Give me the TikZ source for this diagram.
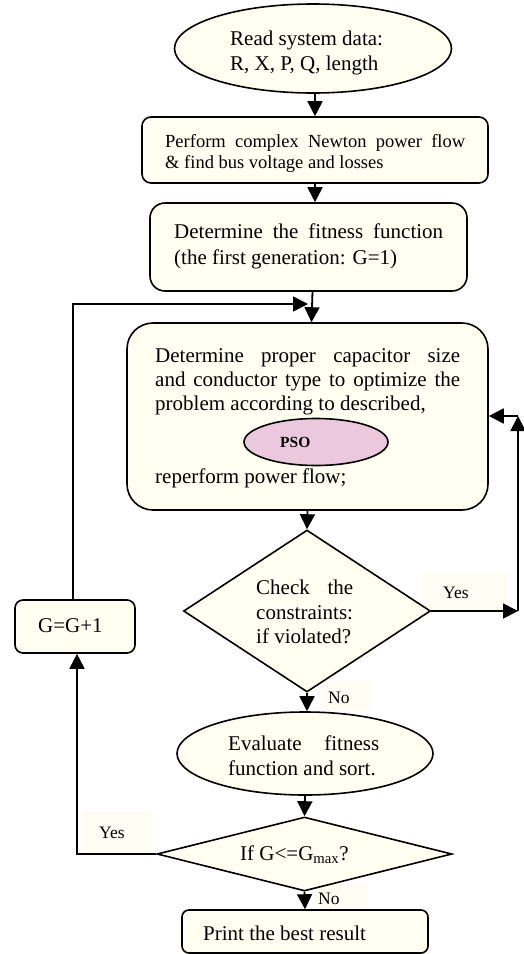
\documentclass[tikz,border=0pt]{standalone}
\usepackage{fontspec}
\setmainfont{Liberation Serif}
\usetikzlibrary{shapes.geometric,arrows.meta}
\definecolor{cream}{RGB}{255,255,242}
\definecolor{lblbg}{RGB}{253,253,243}
\definecolor{psopink}{RGB}{236,200,222}
\begin{document}
\begin{tikzpicture}[x=1pt,y=-1pt,
  box/.style={draw, line width=1.6pt, fill=cream, rectangle, inner sep=0pt},
  ell/.style={draw, line width=1.6pt, fill=cream, ellipse, inner sep=0pt},
  dia/.style={draw, line width=1.6pt, fill=cream, diamond, inner sep=0pt, line join=miter},
  txt/.style={anchor=base west, inner sep=0pt, font=\fontsize{21}{25}\selectfont},
  txtsm/.style={anchor=base west, inner sep=0pt, font=\fontsize{18.5}{22}\selectfont},
  lbl/.style={anchor=base west, inner sep=0pt, font=\fontsize{17.5}{20}\selectfont},
  arr/.style={-{Triangle[length=15pt,width=15pt]}, line width=1.8pt}]
\useasboundingbox (0,0) rectangle (524,954);

% label backgrounds
\fill[lblbg] (423,573) rectangle (507,610);
\fill[lblbg] (322,680) rectangle (370,710);
\fill[lblbg] (82,812) rectangle (152,853);
\fill[lblbg] (313,884) rectangle (367,908);

% shapes
\node[ell, minimum width=277pt, minimum height=89pt] (n1) at (313,48.5) {};
\node[box, rounded corners=9pt, minimum width=346pt, minimum height=66pt] (n2) at (315,150) {};
\node[box, rounded corners=15pt, minimum width=317pt, minimum height=88pt] (n3) at (308.5,247) {};
\node[box, rounded corners=26pt, minimum width=361pt, minimum height=187pt] (n4) at (307.5,416.5) {};
\node[ell, fill=psopink, minimum width=144pt, minimum height=47pt] (pso) at (316,442) {};
\node[dia, minimum width=247pt, minimum height=162pt] (d1) at (307,611) {};
\node[box, rounded corners=8pt, minimum width=120pt, minimum height=53pt] (g) at (75,626.5) {};
\node[ell, minimum width=256pt, minimum height=83pt] (e2) at (305,753.5) {};
\node[dia, minimum width=295pt, minimum height=74pt] (d2) at (304.5,854) {};
\node[box, rounded corners=7pt, minimum width=246pt, minimum height=43pt] (p) at (305,931.5) {};

% texts
\node[txt] (t1a) at (230,45) {Read system data:};
\node[txt] (t1b) at (230,70) {R, X, P, Q, length};
\node[txtsm] (t2a) at (165,147) {\makebox[300pt][s]{Perform complex Newton power flow}};
\node[txtsm] (t2b) at (165,168.5) {\& find bus voltage and losses};
\node[txt] (t3a) at (174,238) {\makebox[269pt][s]{Determine the fitness function}};
\node[txt] (t3b) at (174,264) {(the first generation: G=1)};
\node[txt] (t4a) at (155,362) {\makebox[305pt][s]{Determine proper capacitor size}};
\node[txt] (t4b) at (155,386) {\makebox[305pt][s]{and conductor type to optimize the}};
\node[txt] (t4c) at (155,410) {problem according to described,};
\node[anchor=base west, inner sep=0pt, font=\fontsize{15.5}{18}\selectfont\bfseries] (tpso) at (280,447) {PSO};
\node[txt] (t4d) at (155,483) {reperform power flow;};
\node[txt] (t5a) at (256,594) {\makebox[97pt]{Check\hfill the}};
\node[txt] (t5b) at (256,619) {constraints:};
\node[txt] (t5c) at (256,643) {if violated?};
\node[txt] (tg) at (38,632) {G=G+1};
\node[txt] (t6a) at (228,750) {\makebox[151pt]{Evaluate\hfill fitness}};
\node[txt] (t6b) at (228,775) {function and sort.};
\node[txt] (t7) at (240,860) {If G<=G\textsubscript{max}?};
\node[txt] (t8) at (203,940) {Print the best result};
\node[lbl] (y1) at (443,598) {Yes};
\node[lbl] (no1) at (328,703) {No};
\node[lbl] (y2) at (99,838) {Yes};
\node[lbl] (no2) at (318,904) {No};

% connectors
\coordinate (j1) at (308,304);
\coordinate (c1) at (518,611);
\coordinate (c2) at (518,416);
\draw[arr] (n2.north |- n1.south) -- (n2.north);
\draw[arr] (n2.south) -- (n2.south |- n3.north);
\draw[arr] ([xshift=4pt]n3.south) -- ([xshift=4pt]n4.north);
\draw[arr] ([xshift=-2pt]g.north) |- (j1);
\draw[arr] (n4.south) -- (d1.north);
\draw[arr] (d1.east) -- (c1);
\draw[arr] (c1) -- (c2);
\draw[arr] (c2) -- (c2 -| n4.east);
\draw[arr] (d1.south) -- (d1.south |- e2.north);
\draw[arr] (e2.south) -- (d2.north);
\draw[arr] (d2.west) -| ([xshift=2pt]g.south);
\draw[arr] (d2.south) -- (p.north);
\end{tikzpicture}
\end{document}
